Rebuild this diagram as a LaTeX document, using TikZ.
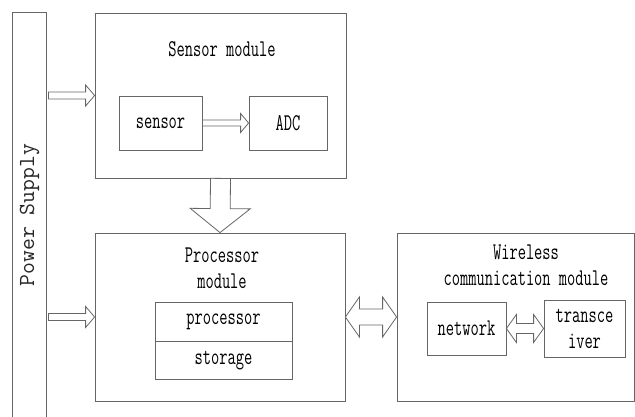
\documentclass[tikz,border=0pt]{standalone}
\usepackage{fontspec}
\newfontfamily\boxfont[FakeStretch=0.667]{Latin Modern Mono}
\newfontfamily\barfont{Latin Modern Mono}
\usetikzlibrary{calc,positioning}
\tikzstyle{module}=[draw=black!60,line width=.8pt,inner sep=0pt]
\tikzstyle{part}=[module,font=\boxfont\fontsize{24}{26}\selectfont,align=center]
\tikzstyle{headtext}=[font=\boxfont\fontsize{24}{26}\selectfont,align=center]
\tikzstyle{hollow}=[draw=black!60,line width=.8pt,fill=white,line join=miter]

% block arrow: from, to, shaft half width, head half width, head length
\newcommand{\onearrow}[5]{%
  \path coordinate (hb) at ($(#2)!#5!(#1)$);
  \draw[hollow] ($(#1)!#3!90:(#2)$) -- ($(hb)!#3!90:(#2)$) -- ($(hb)!#4!90:(#2)$)
    -- (#2) -- ($(hb)!#4!-90:(#2)$) -- ($(hb)!#3!-90:(#2)$) -- ($(#1)!#3!-90:(#2)$) -- cycle;
}
\newcommand{\twoarrow}[5]{%
  \path coordinate (ha) at ($(#1)!#5!(#2)$) coordinate (hb) at ($(#2)!#5!(#1)$);
  \draw[hollow] (#1) -- ($(ha)!#4!90:(#2)$) -- ($(ha)!#3!90:(#2)$)
    -- ($(hb)!#3!-90:(#1)$) -- ($(hb)!#4!-90:(#1)$) -- (#2)
    -- ($(hb)!#4!90:(#1)$) -- ($(hb)!#3!90:(#1)$)
    -- ($(ha)!#3!-90:(#2)$) -- ($(ha)!#4!-90:(#2)$) -- cycle;
}

\begin{document}
\begin{tikzpicture}[x=1pt,y=-1pt]
  \useasboundingbox (0,0) rectangle (635,417);
  % power bar
  \node[module,draw=none,minimum width=33pt,minimum height=404pt,
        font=\barfont\fontsize{23}{26}\selectfont,text=black!85] (pwr) at (29.5,215)
        {\rotatebox{90}{Power Supply}};
  \draw[module] (pwr.south west) -- (pwr.north west) -- (pwr.north east) -- (pwr.south east);

  % sensor module
  \node[module,minimum width=251pt,minimum height=165pt] (smod) at (220.5,95.5) {};
  \node[headtext] (smodt) at (222,49) {Sensor module};
  \node[part,minimum width=83pt,minimum height=54pt] (sensor) at (160.5,123) {sensor};
  \node[part,minimum width=78pt,minimum height=54pt] (adc) at (288,123) {ADC};

  % processor module
  \node[module,minimum width=250pt,minimum height=168pt] (pmod) at (220,317) {};
  \node[headtext] (pmodt) at (222,268) {Processor\\module};
  \node[part,minimum width=137pt,minimum height=39pt] (proc) at (223.5,321.5) {processor};
  \node[part,minimum width=137pt,minimum height=38pt,below=0pt of proc] (stor) {storage};

  % wireless module
  \node[module,minimum width=237pt,minimum height=168pt] (wmod) at (515.5,317) {};
  \node[headtext] (wmodt) at (526,265) {Wireless\\communication module};
  \node[part,minimum width=79pt,minimum height=53pt] (net) at (466.5,328.5) {network};
  \node[part,minimum width=81pt,minimum height=57pt] (trx) at (584.5,328.5) {transce\\iver};

  % arrows
  \coordinate (in1) at ([xshift=2pt]pwr.east |- smod.west);
  \coordinate (in2) at ([xshift=2pt]pwr.east |- pmod.west);
  \onearrow{in1}{smod.west}{3.5pt}{10.5pt}{9pt}
  \onearrow{in2}{pmod.west}{3.5pt}{10.5pt}{9pt}
  \onearrow{sensor.east}{adc.west}{3pt}{9.5pt}{8pt}
  \onearrow{smod.south}{pmod.north}{10pt}{30pt}{24pt}
  \twoarrow{pmod.east}{wmod.west}{8pt}{20pt}{14pt}
  \twoarrow{net.east}{trx.west}{5pt}{14pt}{10pt}
\end{tikzpicture}
\end{document}
